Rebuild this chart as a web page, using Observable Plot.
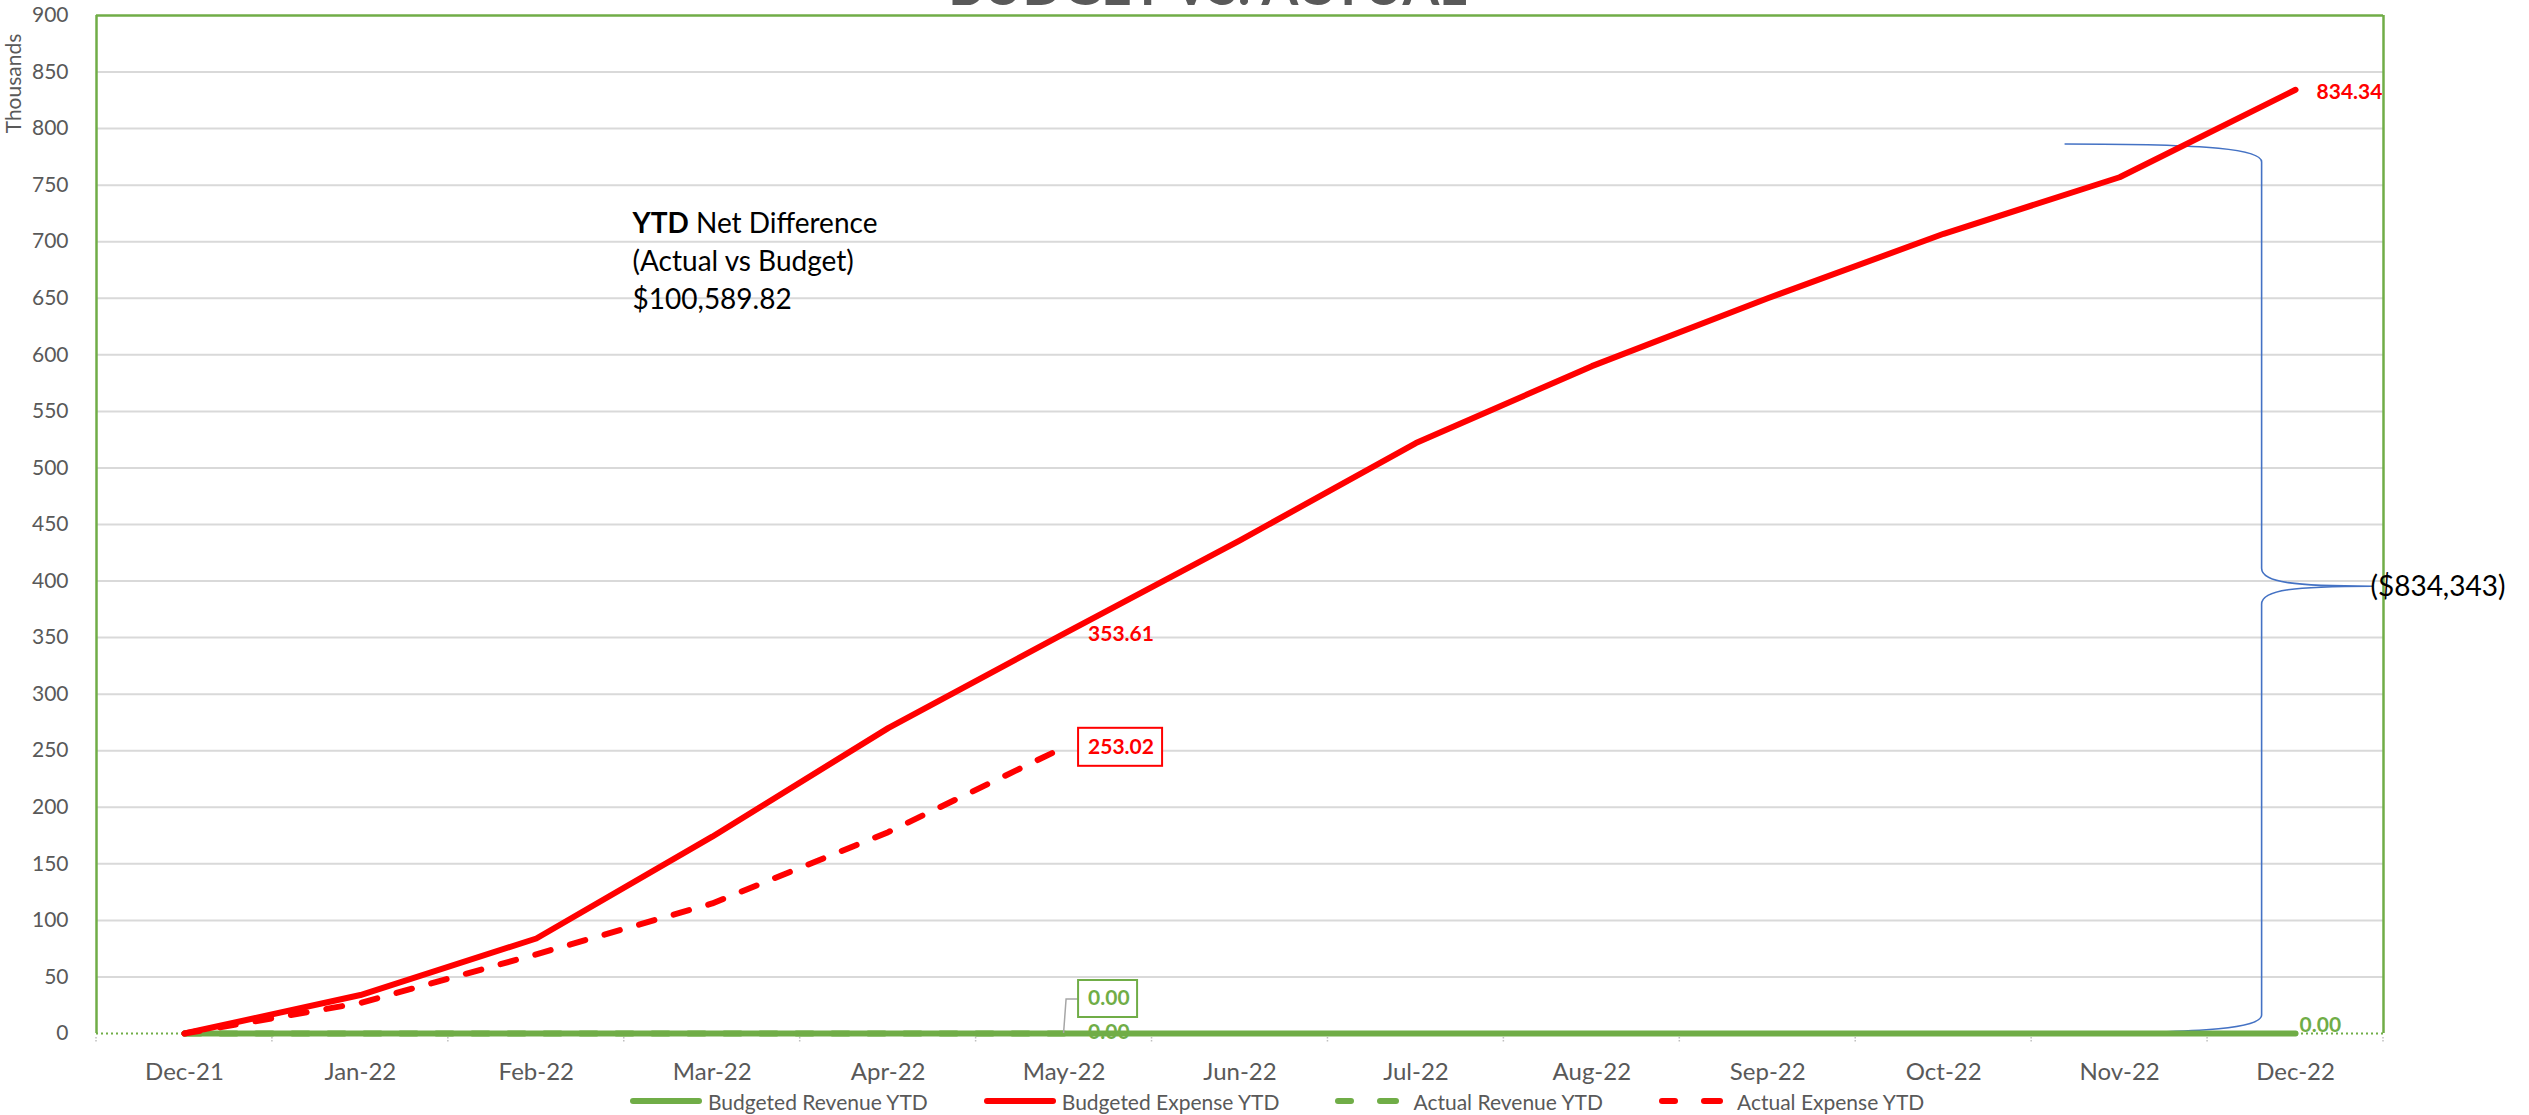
<!DOCTYPE html>
<html>
<head>
<meta charset="utf-8">
<script src="https://cdn.jsdelivr.net/npm/d3@7"></script>
<script src="https://cdn.jsdelivr.net/npm/@observablehq/plot@0.6"></script>
<style>
  html, body { margin: 0; padding: 0; background: #fff; width: 2529px; height: 1115px; overflow: hidden; font-family: Lato, "Open Sans", sans-serif; }
  #chart { position: absolute; left: 0; top: 0; }
  #legend { position: absolute; top: 1089px; left: 630px; height: 24px; display: flex; gap: 56px; }
  .item { display: flex; align-items: center; height: 24px; font-size: 21px; color: #595959; white-space: nowrap; }
  .item svg { margin-right: 6px; }
</style>
</head>
<body>
<div id="chart"></div>
<div id="legend"></div>
<script>
// ---------- data ----------
const months = ["Dec-21","Jan-22","Feb-22","Mar-22","Apr-22","May-22","Jun-22","Jul-22","Aug-22","Sep-22","Oct-22","Nov-22","Dec-22"];
const budgetedRevenue = [0,0,0,0,0,0,0,0,0,0,0,0,0];
const budgetedExpense = [0,34,84,174,270,353.61,436,522,590,650,707,757,834.34];
const actualRevenue = [0,0,0,0,0,0];
const actualExpense = [0,27,70,115,178,253.02];
const yTicks = d3.range(0, 901, 50);
const seriesNames = ["Budgeted Revenue YTD","Budgeted Expense YTD","Actual Revenue YTD","Actual Expense YTD"];
const titleText = "BUDGET VS. ACTUAL";
const yLabel = "Thousands";
const netDifference = "$100,589.82";
const braceLabel = "($834,343)";
// annotation anchors (in data units)
const braceTop = 786, braceMid = 395, braceBottom = 0;
const braceX = [10.69, 11.81, 12.44];
const ytdX = 2.55, ytdY = 707;

// ---------- styles ----------
const red = "#FF0000", green = "#70AD47", grey = "#595959";
const series = [
  {name: seriesNames[0], values: budgetedRevenue, color: green, dashed: false},
  {name: seriesNames[1], values: budgetedExpense, color: red, dashed: false},
  {name: seriesNames[2], values: actualRevenue, color: green, dashed: true},
  {name: seriesNames[3], values: actualExpense, color: red, dashed: true}
];
const rows = s => s.values.map((v, i) => ({i, v}));
const fmt = d3.format(".2f");

const lastBE = {i: 12, v: budgetedExpense[12]};
const mayBE = {i: 5, v: budgetedExpense[5]};
const mayAE = {i: 5, v: actualExpense[5]};
const mayAR = {i: 5, v: actualRevenue[5]};
const mayBR = {i: 5, v: budgetedRevenue[5]};
const lastBR = {i: 12, v: budgetedRevenue[12]};

function backdrop(index, {x, y}, values, dims) {
  const g = d3.create("svg:g");
  // title (mostly cut off at top, as in the reference)
  g.append("text")
    .attr("x", (x(-0.5) + x(12.5)) / 2 - 32)
    .attr("y", dims.marginTop - 10)
    .attr("text-anchor", "middle")
    .attr("font-size", 53).attr("font-weight", 700).attr("fill", grey)
    .text(titleText);
  // small category boundary ticks
  for (let b = -0.5; b <= 12.5; b += 1) {
    g.append("line").attr("x1", x(b)).attr("x2", x(b))
      .attr("y1", y(0) + 4).attr("y2", y(0) + 10)
      .attr("stroke", "#bfbfbf").attr("stroke-width", 1.5).attr("stroke-dasharray", "1.5,1.5");
  }
  // brace
  const xl = x(braceX[0]), xv = x(braceX[1]), xt = x(braceX[2]);
  const yt = y(braceTop), ym = y(braceMid), yb = y(braceBottom);
  const r = 18;
  const p = d3.path();
  p.moveTo(xl, yt);
  p.bezierCurveTo(xl + 0.75 * (xv - xl), yt, xv, yt + r * 0.3, xv, yt + r);
  p.lineTo(xv, ym - r);
  p.bezierCurveTo(xv, ym - r * 0.2, xv + 0.3 * (xt - xv), ym, xt, ym);
  p.bezierCurveTo(xv + 0.3 * (xt - xv), ym, xv, ym + r * 0.2, xv, ym + r);
  p.lineTo(xv, yb - r);
  p.bezierCurveTo(xv, yb - r * 0.3, xl + 0.75 * (xv - xl), yb, xl, yb);
  g.append("path").attr("d", p.toString()).attr("fill", "none")
    .attr("stroke", "#4472C4").attr("stroke-width", 1.6);
  return g.node();
}

function foreground(index, {x, y}) {
  const g = d3.create("svg:g");
  // leader line for the boxed label
  const x0 = x(mayAR.i), y0 = y(mayAR.v);
  g.append("path").attr("d", `M${x0},${y0}L${x0 + 2.5},${y0 - 34}L${x0 + 14.5},${y0 - 34}`)
    .attr("fill", "none").attr("stroke", "#A6A6A6").attr("stroke-width", 1.5);
  // YTD text
  const t = g.append("text").attr("x", x(ytdX)).attr("y", y(ytdY))
    .attr("text-anchor", "start").attr("font-size", 28).attr("fill", "#000");
  t.append("tspan").attr("font-weight", 700).text("YTD");
  t.append("tspan").text(" Net Difference");
  t.append("tspan").attr("x", x(ytdX)).attr("dy", 38).text("(Actual vs Budget)");
  t.append("tspan").attr("x", x(ytdX)).attr("dy", 38).text(netDifference);
  // brace label
  g.append("text").attr("x", x(braceX[2]) - 2).attr("y", y(braceMid)).attr("dy", "0.35em")
    .attr("text-anchor", "start").attr("font-size", 28).attr("fill", "#000").text(braceLabel);
  return g.node();
}

const lineMarks = series.map(s => Plot.line(rows(s), {
  x: "i", y: "v", stroke: s.color, strokeWidth: 6,
  strokeDasharray: s.dashed ? "16,20" : null,
  strokeLinecap: "round", strokeLinejoin: "round"
}));

const chart = Plot.plot({
  width: 2529, height: 1085,
  marginLeft: 96, marginRight: 146, marginTop: 15, marginBottom: 52,
  style: {fontFamily: "Lato, 'Open Sans', sans-serif", fontSize: "20px", background: "transparent"},
  x: {domain: [-0.5, 12.5]},
  y: {domain: [0, 900]},
  marks: [
    Plot.ruleY(yTicks.filter(d => d > 0 && d < 900), {stroke: "#d9d9d9", strokeWidth: 2}),
    Plot.axisX(d3.range(months.length), {tickFormat: i => months[i], tickSize: 0, tickPadding: 29, fontSize: 24, color: grey, label: null}),
    Plot.axisY(yTicks, {tickSize: 0, tickPadding: 28, fontSize: 21, color: grey, label: null}),
    Plot.text([yLabel], {frameAnchor: "top-left", text: d => d, rotate: -90, dx: -82, dy: 68, textAnchor: "middle", lineAnchor: "middle", fontSize: 21, fill: grey}),
    Plot.ruleY([900], {stroke: green, strokeWidth: 2.5}),
    Plot.ruleX([-0.5, 12.5], {stroke: green, strokeWidth: 2.5}),
    Plot.ruleY([0], {stroke: green, strokeWidth: 2, strokeDasharray: "2,3"}),
    backdrop,
    ...lineMarks,
    foreground,
    Plot.rect([mayAE], {x1: "i", x2: "i", y1: "v", y2: "v", insetLeft: 14.5, insetRight: -98.5, insetTop: -19, insetBottom: -19, fill: "white", stroke: red, strokeWidth: 2}),
    Plot.rect([mayAR], {x1: "i", x2: "i", y1: "v", y2: "v", insetLeft: 14.5, insetRight: -73.5, insetTop: -53, insetBottom: 16, fill: "white", stroke: green, strokeWidth: 2}),
    Plot.text([lastBE], {x: "i", y: "v", text: d => fmt(d.v), dx: 21, dy: 2, textAnchor: "start", fill: red, fontWeight: 700, fontSize: 21}),
    Plot.text([mayBE], {x: "i", y: "v", text: d => fmt(d.v), dx: 24, dy: 1, textAnchor: "start", fill: red, fontWeight: 700, fontSize: 21}),
    Plot.text([mayAE], {x: "i", y: "v", text: d => fmt(d.v), dx: 24, textAnchor: "start", fill: red, fontWeight: 700, fontSize: 21}),
    Plot.text([mayAR], {x: "i", y: "v", text: d => fmt(d.v), dx: 24, dy: -35, textAnchor: "start", fill: green, fontWeight: 700, fontSize: 21}),
    Plot.text([mayBR], {x: "i", y: "v", text: d => fmt(d.v), dx: 24, dy: -1, textAnchor: "start", fill: green, fontWeight: 700, fontSize: 21}),
    Plot.text([lastBR], {x: "i", y: "v", text: d => fmt(d.v), dx: 4, dy: -8, textAnchor: "start", fill: green, fontWeight: 700, fontSize: 21})
  ]
});
document.getElementById("chart").append(chart);

// ---------- legend ----------
const legend = d3.select("#legend");
series.forEach(s => {
  const item = legend.append("div").attr("class", "item");
  const sw = item.append("svg").attr("width", 72).attr("height", 12);
  const segs = s.dashed ? [[3, 16], [45, 61]] : [[3, 69]];
  segs.forEach(([a, b]) => sw.append("line").attr("x1", a).attr("x2", b).attr("y1", 6).attr("y2", 6)
    .attr("stroke", s.color).attr("stroke-width", 6).attr("stroke-linecap", "round"));
  item.append("span").text(s.name);
});
</script>
</body>
</html>
